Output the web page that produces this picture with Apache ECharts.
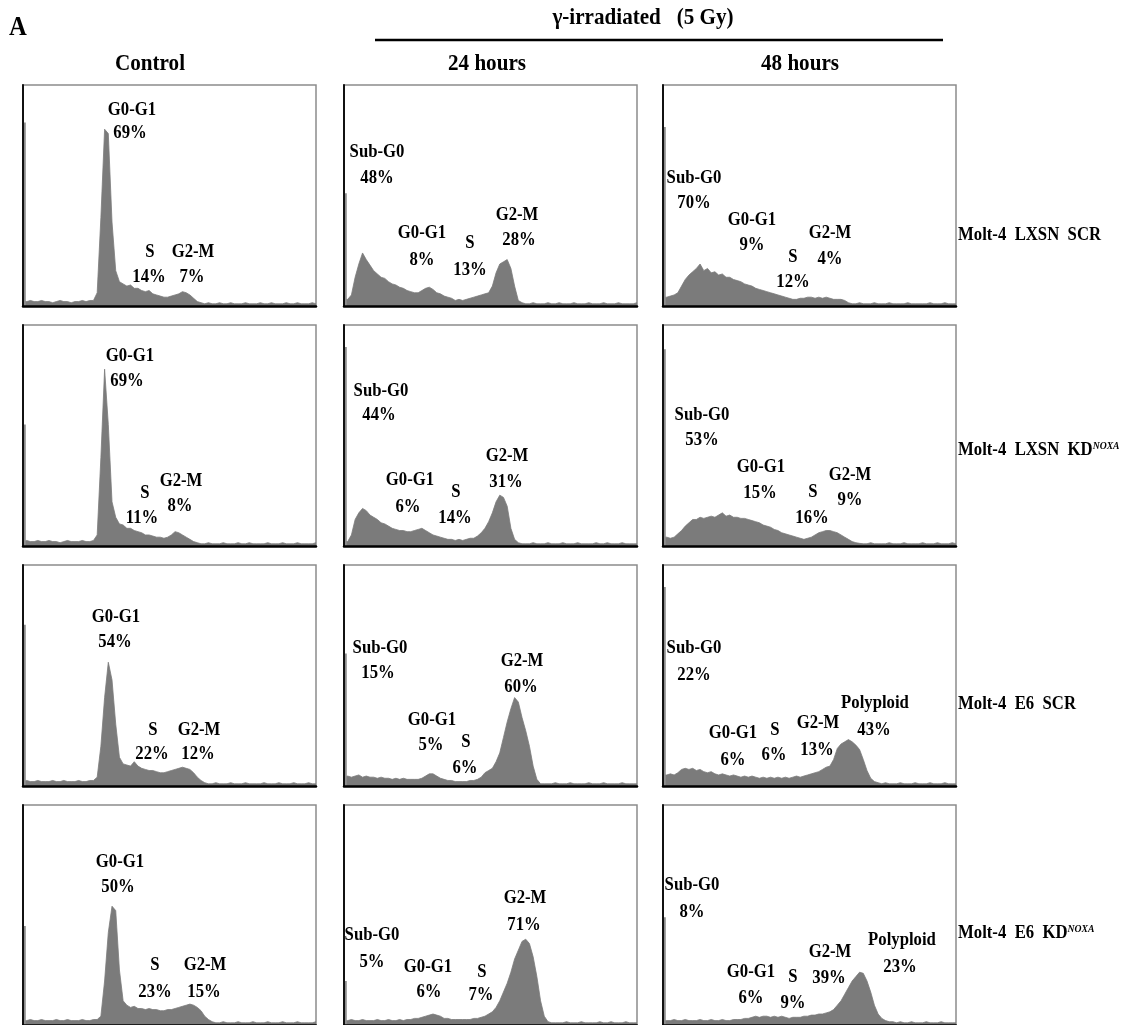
<!DOCTYPE html>
<html>
<head>
<meta charset="utf-8">
<script src="https://cdn.jsdelivr.net/npm/echarts@6/dist/echarts.min.js"></script>
<style>
  html, body { margin: 0; padding: 0; background: #fff; }
  #chart { width: 1125px; height: 1025px; }
</style>
</head>
<body>
<div id="chart"></div>
<script>
// ---- Data -------------------------------------------------------------
const panelLetter = 'A';
const treatmentTitle = 'γ-irradiated   (5 Gy)';
const conditions = ['Control', '24 hours', '48 hours'];
const rowLabelBase = ['Molt-4  LXSN  SCR', 'Molt-4  LXSN  KD', 'Molt-4  E6  SCR', 'Molt-4  E6  KD'];
const rowLabelSup = ['', 'NOXA', '', 'NOXA'];

// DNA-content histograms (relative counts, % of full scale), 80 channels each,
// listed row by row: LXSN SCR, LXSN KD-NOXA, E6 SCR, E6 KD-NOXA; columns Control, 24 h, 48 h
const histLxsnScrControl = [2.5,2,2.5,2,2,2.5,2,2,1.5,2, 2.5,2,2,1.5,2,2,2.5,2,2.5,2.5, 6,40,80,78,38,16,11,10,9,9.5, 8,8,7,6.5,7,5.5,5,4.5,4,4, 4.5,5,5.5,6.5,6,5,3.5,2,1.5,1, 1.5,1,1,1.5,1,1,1.5,1,1,1, 1.5,1,1,1,1.5,1,1,1.5,1,1, 1,1.5,1,1,1.5,1,1,1,1.5,1];
const histLxsnScr24h = [3,3,5,13,19,24,21,18.5,16,14.5, 13,12.5,11,10,9.5,8.5,8,7,6.5,6, 6,7,8,8.5,7.5,6,5.5,4.5,4,3.5, 2.5,3,2.5,3,3.5,4,4.5,5,5.5,6, 9,15,19,20,21,17,9,2.5,1.5,1, 1,1.5,1,1,1,1.5,1,1,1.5,1, 1,1,1.5,1,1,1,1.5,1,1,1, 1.5,1,1,1,1.5,1,1,1,1,1.5];
const histLxsnScr48h = [4,4,4.5,5,6,9,12,14,15.5,17, 19,16,17,15,15.5,14,14.5,13,13,12, 11.5,11,10,9.5,9,8,7.5,7,6.5,6, 5.5,5,4.5,4,3.5,3,3,3.5,3.5,4, 4,3.5,4,3.5,4,3.5,3,3,3,2.5, 1.5,1,1,1.5,1,1,1,1.5,1,1, 1,1.5,1,1,1,1,1.5,1,1,1, 1,1,1.5,1,1,1,1.5,1,1,1];
const histLxsnKdControl = [2,2.5,2,2,2.5,2,2,2.5,2,2, 1.5,2,2.5,2,2,2,2.5,2,2,2.5, 5,40,80,55,20,13,10,9.5,8,8, 7,6.5,6,5,5,4.5,4,4,3.5,4, 5,6.5,6,5,4,3,2,1.5,1,1, 1.5,1,1,1,1.5,1,1,1,1.5,1, 1,1.5,1,1,1,1,1.5,1,1,1, 1.5,1,1,1,1.5,1,1,1,1,1.5];
const histLxsnKd24h = [2,2,5,12,15,17,16,14,13,12, 10.5,10,9,8,7.5,7,7,6.5,6.5,7, 7.5,8,7,6,5,4.5,4,3.5,3,3, 2.5,3,2.5,3,3.5,3.5,4.5,6,8,11, 15,20,23,22,18,8,3,1.5,1,1, 1,1.5,1,1,1,1.5,1,1,1,1.5, 1,1,1,1.5,1,1,1,1,1.5,1, 1,1.5,1,1,1,1.5,1,1,1,1];
const histLxsnKd48h = [4,4,3.5,4,5.5,7,9,10.5,12,12, 13,12.5,13,13.5,13,14,15,13.5,14,13, 13,12.5,12.5,12,11.5,11,10.5,9.5,9,8.5, 7.5,7,6,5.5,5,4.5,4,3.5,3,3.5, 4,5,6,6.5,7,7,6.5,6,5,4, 3,2,1.5,1.2,1,1,1.5,1,1,1, 1,1.5,1,1,1,1.5,1,1,1,1, 1.5,1,1,1,1.5,1,1,1,1.5,1];
const histE6ScrControl = [2,2.5,2,2,2.5,2,2,2,2.5,2, 2,2.5,2,2,2,2.5,2,2,2.5,2.5, 4,18,40,56,48,28,13,10,9.5,9, 11,9,8,7.5,7,7,6.5,6,6,6.5, 7,7.5,8,8.5,8,7.5,6,4,2.5,1.5, 1,1,1.5,1,1,1,1.5,1,1,1, 1.5,1,1,1,1,1.5,1,1,1,1.5, 1,1,1,1.5,1,1,1,1.5,1,1];
const histE6Scr24h = [4,4.5,4,4.5,5,4,4.5,4,4,3.5, 4,3.5,3.5,3,3.5,3,3.5,3,3,3, 3,3.5,4.5,5.5,5.5,4.5,3.5,3,2.5,2.5, 2,2,2,2,2.5,2.5,3,4,6,7, 8,11,15,22,29,35,40,38,31,25, 18,9,3,1,1,1,1,1.5,1,1, 1,1.5,1,1,1,1,1.5,1,1,1, 1.5,1,1,1,1,1.5,1,1,1,1];
const histE6Scr48h = [5,5,5.5,5,6,7.5,8,7.5,8,7, 7.5,6.5,6,6.5,5.5,5,5.5,5,4.5,5, 4.5,4,4.5,4,4.5,4,3.5,4,3.5,4, 3.5,4,3.5,4,3.5,4,4.5,4,4.5,5, 5.5,6,6.5,7.5,8.5,9,12,17,19,20, 21,20,18.5,16.5,12,7,3.5,2,1.5,1, 1.5,1,1,1,1.5,1,1,1,1.5,1, 1,1,1.5,1,1,1,1.5,1,1,1];
const histE6KdControl = [2,2,2.5,2,2,2.5,2,2,2,2.5, 2,2,2.5,2,2,2,2.5,2,2,2.5, 2.5,4,20,42,54,52,25,11,9,8, 8.5,7.5,7.5,7,7.5,7,7,6.5,6.5,7, 7,7.5,8,8.5,9,9.5,9,8,6.5,4, 2.5,1.5,1,1,1.5,1,1,1,1.5,1, 1,1,1.5,1,1,1,1.5,1,1,1, 1.5,1,1,1,1.5,1,1,1,1,1.5];
const histE6Kd24h = [2,2,2.5,2,2,2.5,2,2,2,2.5, 2,2,2.5,2,2,2.5,2,2.5,2.5,3, 3,3.5,4,4.5,5,4.5,4,3,3,2.5, 2.5,2.5,2.5,2.5,2.5,3,3,3.5,4,5, 6,8,11,15,19,24,30,34,38,39, 37,31,22,11,4,1.5,1,1,1,1, 1.5,1,1,1,1.5,1,1,1,1,1.5, 1,1,1.5,1,1,1,1.5,1,1,1];
const histE6Kd48h = [2,2,2,2.5,2,2,2.5,2,2,2, 2.5,2,2,2.5,2,2,2.5,2,2,2.5, 2.5,2.5,3,3,3.5,4,3.5,4,4,3.5, 4,3.5,4,3.5,3,3.5,3.5,3.5,4,4, 4.5,4.5,5,5,5.5,6,7,9,11,14, 17,20,22,24,23.5,20,15,9,5,3, 2,1.5,1.5,1,1.5,1,1,1.5,1,1, 1,1.5,1,1,1,1.5,1,1,1,1];

const histograms = [
  histLxsnScrControl, histLxsnScr24h, histLxsnScr48h,
  histLxsnKdControl, histLxsnKd24h, histLxsnKd48h,
  histE6ScrControl, histE6Scr24h, histE6Scr48h,
  histE6KdControl, histE6Kd24h, histE6Kd48h
];

// off-scale counts piled up in channel 0 (debris), same panel order
const channelZeroCounts = [83, 51, 81, 55, 90, 89, 73, 60, 90, 45, 20, 49];

// gated cell-cycle fractions per panel
const phaseNames = [
  ['G0-G1', 'S', 'G2-M'],
  ['Sub-G0', 'G0-G1', 'S', 'G2-M'],
  ['Sub-G0', 'G0-G1', 'S', 'G2-M'],
  ['G0-G1', 'S', 'G2-M'],
  ['Sub-G0', 'G0-G1', 'S', 'G2-M'],
  ['Sub-G0', 'G0-G1', 'S', 'G2-M'],
  ['G0-G1', 'S', 'G2-M'],
  ['Sub-G0', 'G0-G1', 'S', 'G2-M'],
  ['Sub-G0', 'G0-G1', 'S', 'G2-M', 'Polyploid'],
  ['G0-G1', 'S', 'G2-M'],
  ['Sub-G0', 'G0-G1', 'S', 'G2-M'],
  ['Sub-G0', 'G0-G1', 'S', 'G2-M', 'Polyploid']
];
const phasePercents = [
  [69, 14, 7],
  [48, 8, 13, 28],
  [70, 9, 12, 4],
  [69, 11, 8],
  [44, 6, 14, 31],
  [53, 15, 16, 9],
  [54, 22, 12],
  [15, 5, 6, 60],
  [22, 6, 6, 13, 43],
  [50, 23, 15],
  [5, 6, 7, 71],
  [8, 6, 9, 39, 23]
];

// ---- Layout -----------------------------------------------------------
const colLefts = [23, 344, 663];
const rowTops = [85, 325, 565, 805];
const panelW = 293, panelH = 221;
const rowLabelX = 958;
const rowLabelY = [235, 450, 704, 933];
const headerY = 64;
const headerX = [150, 487, 800];

// text anchors for each gate label: [nameX, nameY, percentX, percentY]
const labelAnchors = [
  [[132,110,130,133], [150,252,149,277], [193,252,192,277]],
  [[377,152,377,178], [422,233,422,260], [470,243,470,270], [517,215,519,240]],
  [[694,178,694,203], [752,220,752,245], [793,257,793,282], [830,233,830,259]],
  [[130,356,127,381], [145,493,142,518], [181,481,180,506]],
  [[381,391,379,415], [410,480,408,507], [456,492,455,518], [507,456,506,482]],
  [[702,415,702,440], [761,467,760,493], [813,492,812,518], [850,475,850,500]],
  [[116,617,115,642], [153,730,152,754], [199,730,198,754]],
  [[380,648,378,673], [432,720,431,745], [466,742,465,768], [522,661,521,687]],
  [[694,648,694,675], [733,733,733,760], [775,730,774,755], [818,723,817,750], [875,703,874,730]],
  [[120,862,118,887], [155,965,155,992], [205,965,204,992]],
  [[372,935,372,962], [428,967,429,992], [482,972,481,995], [525,898,524,925]],
  [[692,885,692,912], [751,972,751,998], [793,977,793,1003], [830,952,829,978], [902,940,900,967]]
];

// ---- Styles -----------------------------------------------------------
const SERIF = '"Liberation Serif", "Times New Roman", Times, serif';
const FILL = '#7b7b7b';
const SQUEEZE = 0.88;

function text(str, x, y, size, align) {
  return {
    type: 'text', x: x, y: y, scaleX: SQUEEZE, silent: true, z: 50,
    style: {
      text: str, fontFamily: SERIF, fontWeight: 'bold', fontSize: size, fill: '#000',
      align: align || 'center', verticalAlign: 'middle',
      textAlign: align || 'center', textVerticalAlign: 'middle'
    }
  };
}

// ---- Build option -----------------------------------------------------
const grids = [], xAxes = [], yAxes = [], series = [], graphics = [];

histograms.forEach(function (hist, k) {
  const r = Math.floor(k / 3), c = k % 3;
  grids.push({
    left: colLefts[c], top: rowTops[r], width: panelW, height: panelH,
    show: true, borderColor: '#8c8c8c', borderWidth: 1.5, backgroundColor: 'transparent'
  });
  xAxes.push({
    gridIndex: k, type: 'value', min: 0, max: hist.length - 1, z: 10,
    axisLine: { show: true, onZero: false, lineStyle: { color: '#000', width: 2.5 } },
    axisTick: { show: false }, axisLabel: { show: false }, splitLine: { show: false }
  });
  yAxes.push({
    gridIndex: k, type: 'value', min: 0, max: 100, z: 10,
    axisLine: { show: true, onZero: false, lineStyle: { color: '#111', width: 2 } },
    axisTick: { show: false }, axisLabel: { show: false }, splitLine: { show: false }
  });
  series.push({
    type: 'line', xAxisIndex: k, yAxisIndex: k, silent: true,
    data: hist.map(function (v, i) { return [i, v]; }),
    symbol: 'none', showSymbol: false,
    lineStyle: { width: 0.8, color: FILL },
    areaStyle: { color: FILL, opacity: 1 },
    z: 2
  });
  // channel-0 pile-up, drawn as a thin bar hugging the left axis
  series.push({
    type: 'custom', xAxisIndex: k, yAxisIndex: k, silent: true, z: 3,
    data: [[0, channelZeroCounts[k]]],
    renderItem: function (params, api) {
      const top = api.coord([api.value(0), api.value(1)]);
      const base = api.coord([api.value(0), 0]);
      return {
        type: 'rect',
        shape: { x: base[0] + 1, y: top[1], width: 1.8, height: base[1] - top[1] },
        style: { fill: '#8e8e8e' }
      };
    }
  });

  phaseNames[k].forEach(function (name, j) {
    const a = labelAnchors[k][j];
    graphics.push(text(name, a[0], a[1], 19));
    graphics.push(text(phasePercents[k][j] + '%', a[2], a[3], 19));
  });
});

// headings
graphics.push(text(panelLetter, 18, 28, 28));
graphics.push(text(treatmentTitle, 643, 18, 24));
graphics.push({
  type: 'line', silent: true, z: 50,
  shape: { x1: 375, y1: 40, x2: 943, y2: 40 },
  style: { stroke: '#000', lineWidth: 2.5 }
});
conditions.forEach(function (cond, c) {
  graphics.push(text(cond, headerX[c], headerY, 24));
});

// row labels (cell line + construct, with superscript target)
rowLabelBase.forEach(function (base, r) {
  const sup = rowLabelSup[r];
  graphics.push({
    type: 'text', x: rowLabelX, y: rowLabelY[r], scaleX: SQUEEZE, silent: true, z: 50,
    style: {
      text: sup ? '{b|' + base + '}{s|' + sup + '}' : '{b|' + base + '}',
      rich: {
        b: { fontFamily: SERIF, fontWeight: 'bold', fontSize: 19, fill: '#000' },
        s: { fontFamily: SERIF, fontWeight: 'bold', fontStyle: 'italic', fontSize: 11, fill: '#000', verticalAlign: 'top' }
      },
      align: 'left', verticalAlign: 'middle', textAlign: 'left', textVerticalAlign: 'middle'
    }
  });
});

const chart = echarts.init(document.getElementById('chart'), null, { renderer: 'canvas' });
chart.setOption({
  animation: false,
  backgroundColor: '#fff',
  grid: grids,
  xAxis: xAxes,
  yAxis: yAxes,
  series: series,
  graphic: graphics
});
</script>
</body>
</html>
